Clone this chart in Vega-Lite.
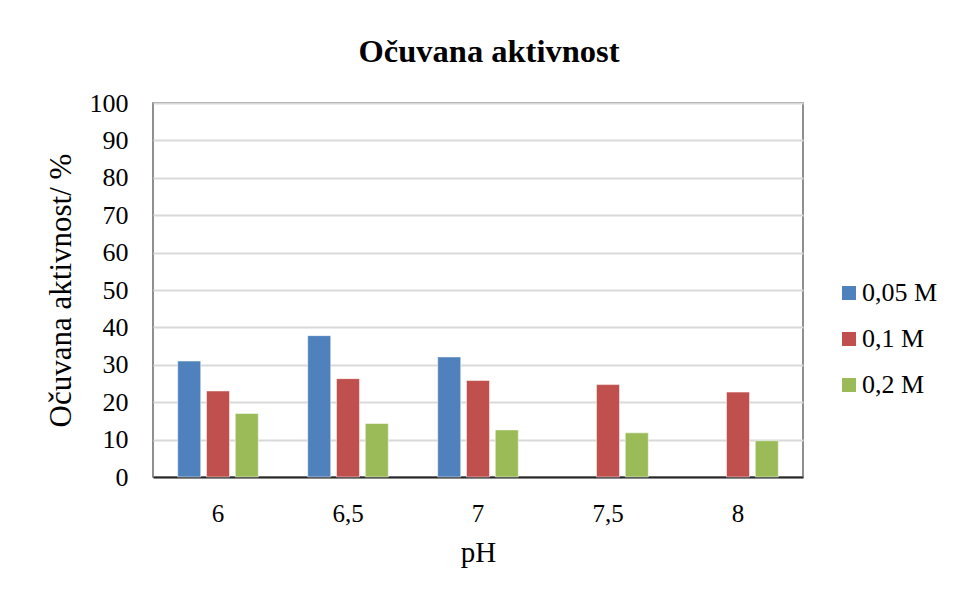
{
  "$schema": "https://vega.github.io/schema/vega-lite/v6.json",
  "width": 650,
  "height": 374,
  "autosize": "none",
  "padding": {"left": 153, "top": 103, "right": 152, "bottom": 117},
  "background": "white",
  "title": {
    "text": "Očuvana aktivnost",
    "font": "Liberation Serif",
    "fontSize": 32.5,
    "fontWeight": "bold",
    "color": "black",
    "anchor": "middle",
    "offset": 22,
    "dx": 11
  },
  "data": {
    "values": [
      {"pH": "6", "c": "0,05 M", "v": 31.0},
      {"pH": "6", "c": "0,1 M", "v": 23.0},
      {"pH": "6", "c": "0,2 M", "v": 17.0},
      {"pH": "6,5", "c": "0,05 M", "v": 37.8},
      {"pH": "6,5", "c": "0,1 M", "v": 26.3},
      {"pH": "6,5", "c": "0,2 M", "v": 14.3},
      {"pH": "7", "c": "0,05 M", "v": 32.1},
      {"pH": "7", "c": "0,1 M", "v": 25.8},
      {"pH": "7", "c": "0,2 M", "v": 12.6},
      {"pH": "7,5", "c": "0,1 M", "v": 24.7},
      {"pH": "7,5", "c": "0,2 M", "v": 11.8},
      {"pH": "8", "c": "0,1 M", "v": 22.7},
      {"pH": "8", "c": "0,2 M", "v": 9.7}
    ]
  },
  "mark": {"type": "bar", "stroke": "white", "strokeOpacity": 0.5, "strokeWidth": 1},
  "encoding": {
    "x": {
      "field": "pH",
      "type": "nominal",
      "sort": ["6", "6,5", "7", "7,5", "8"],
      "scale": {"paddingInner": 0.38, "paddingOuter": 0.19},
      "axis": {
        "title": "pH",
        "labelAngle": 0,
        "ticks": false,
        "labelFont": "Liberation Serif",
        "labelFontSize": 25,
        "labelPadding": 24,
        "titlePadding": 12,
        "titleFontSize": 29,
        "domainColor": "#262626",
        "domainWidth": 2
      }
    },
    "xOffset": {
      "field": "c",
      "type": "nominal",
      "scale": {"domain": ["0,05 M", "0,1 M", "0,2 M"], "paddingInner": 0.2, "paddingOuter": 0}
    },
    "y": {
      "field": "v",
      "type": "quantitative",
      "scale": {"domain": [0, 100]},
      "axis": {
        "title": "Očuvana aktivnost/ %",
        "values": [0, 10, 20, 30, 40, 50, 60, 70, 80, 90, 100],
        "ticks": false,
        "labelFont": "Liberation Serif",
        "labelFontSize": 26,
        "labelPadding": 25,
        "titlePadding": 12,
        "domain": false,
        "gridColor": "#D9D9D9",
        "gridWidth": 2,
        "titleFontSize": 31
      }
    },
    "color": {
      "field": "c",
      "type": "nominal",
      "scale": {"domain": ["0,05 M", "0,1 M", "0,2 M"], "range": ["#4F81BD", "#C0504D", "#9BBB59"]},
      "legend": {
        "title": null,
        "orient": "none",
        "legendX": 683,
        "legendY": 177,
        "symbolType": "square",
        "symbolSize": 196,
        "symbolStrokeWidth": 0,
        "labelFont": "Liberation Serif",
        "labelFontSize": 26,
        "labelOffset": 0,
        "rowPadding": 20
      }
    }
  },
  "config": {
    "font": "Liberation Serif",
    "view": {"stroke": "#6b6b6b", "strokeWidth": 1.5},
    "axis": {
      "labelFont": "Liberation Serif",
      "titleFont": "Liberation Serif",
      "titleFontSize": 26,
      "titleFontWeight": "normal",
      "labelColor": "black",
      "titleColor": "black"
    },
    "legend": {"labelFont": "Liberation Serif", "labelColor": "black"}
  }
}
